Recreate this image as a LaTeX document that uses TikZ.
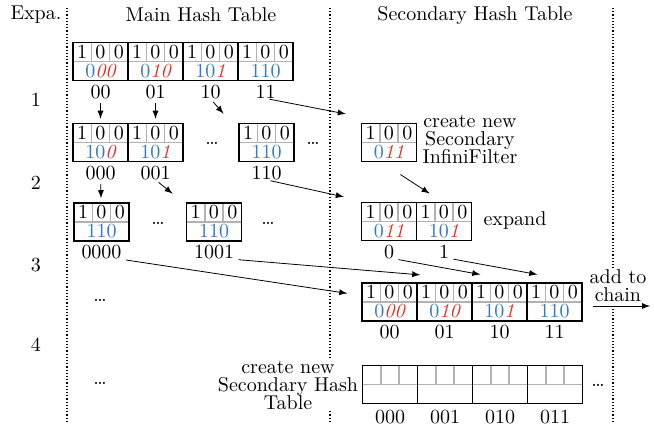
\documentclass[tikz,border=0pt]{standalone}
\usepackage{tikz}
\usetikzlibrary{positioning}
\definecolor{hashblue}{RGB}{52,120,198}
\definecolor{fpred}{RGB}{226,48,36}
\newcommand{\fpbits}[1]{{\color{fpred}\itshape #1}}

\begin{document}
\begin{tikzpicture}[x=0.5pt,y=-0.5pt]
        \useasboundingbox (0,0) rectangle (654,425);
        \tikzstyle{sepline} = [line width=0.6pt,dash pattern=on 0.6pt off 1pt]
        \tikzstyle{slot} = [draw,thick,minimum width=27.5pt,minimum height=19pt,inner sep=0pt,
                path picture={\draw[gray!60] (path picture bounding box.west) -- (path picture bounding box.east)
                ([xshift=-4.58pt]path picture bounding box.north) -- ([xshift=-4.58pt]path picture bounding box.center)
                ([xshift=4.58pt]path picture bounding box.north) -- ([xshift=4.58pt]path picture bounding box.center);}]
        \tikzstyle{bitrow} = [inner sep=0pt]
        \tikzstyle{hashcode} = [inner sep=0pt,text=hashblue]
        \tikzstyle{idxlabel} = [inner sep=0pt]
        \tikzstyle{linkarrow} = [->,>=latex,shorten <=2pt,shorten >=2pt]
        \tikzstyle{annot} = [align=center,inner sep=1pt]

        % separators
        \draw[sepline] (67,8) -- (67,422);
        \draw[sepline] (330,8) -- (330,422);
        \draw[sepline] (613,8) -- (613,422);

        % headings
        \node (hexp) at (36,15) {Expa.};
        \node (hmain) at (201,15) {Main Hash Table};
        \node (hsec) at (475,15) {Secondary Hash Table};
        \node (r1) at (36,100) {1};
        \node (r2) at (36,183) {2};
        \node (r3) at (36,265) {3};
        \node (r4) at (36,345) {4};

        % buckets
        \foreach \n/\x/\y/\code/\lab in {
                m1a/100.5/61.5/0\fpbits{00}/00, m1b/155.5/61.5/0\fpbits{10}/01,
                m1c/210.5/61.5/10\fpbits{1}/10, m1d/265.5/61.5/110/11,
                m2a/100.5/142.5/10\fpbits{0}/000, m2b/155.5/142.5/10\fpbits{1}/001,
                m2c/266.5/142.5/110/110,
                m3a/101.5/222/110/0000, m3b/214/222/110/1001,
                s3a/389/221.5/0\fpbits{11}/0, s3b/444/221.5/10\fpbits{1}/1,
                c1/389.5/302/0\fpbits{00}/00, c2/444.5/302/0\fpbits{10}/01,
                c3/499.5/302/10\fpbits{1}/10, c4/554.5/302/110/11} {
                \node[slot] (\n) at (\x,\y) {};
                \node[bitrow] (\n-b) at ([yshift=4.75pt]\n.center) {1\kern4.17pt 0\kern4.17pt 0};
                \node[hashcode] (\n-c) at ([yshift=-4.75pt]\n.center) {\code};
                \node[idxlabel,below=1.5pt of \n] (\n-l) {\lab};
        }
        \node[slot] (s2) at (389,142.5) {};
        \node[bitrow] (s2-b) at ([yshift=4.75pt]s2.center) {1\kern4.17pt 0\kern4.17pt 0};
        \node[hashcode] (s2-c) at ([yshift=-4.75pt]s2.center) {0\fpbits{11}};

        % new secondary table
        \foreach \n/\x/\lab in {t1/390/000, t2/445/001, t3/500/010, t4/555/011} {
                \node[slot] (\n) at (\x,384.5) {};
                \node[idxlabel,below=2.5pt of \n] (\n-l) {\lab};
        }

        % dots
        \node (d1) at (212,143) {\dots};
        \node (d2) at (313,143) {\dots};
        \node (d3) at (158,223) {\dots};
        \node (d4) at (268,223) {\dots};
        \node (d5) at (100,300) {\dots};
        \node (d6) at (100,383) {\dots};
        \node (d7) at (598,385) {\dots};

        % notes
        \node[annot] (snew) at (470,139) {create new\\[-3pt]Secondary\\[-3pt]InfiniFilter};
        \node (sexp) at (515,220) {expand};
        \node[annot,fill=white] (chainnote) at (618,286) {add to\\[-3pt]chain};
        \node[annot,fill=white] (tnew) at (288,385) {create new\\[-3pt]Secondary Hash\\[-3pt]Table};

        % arrows
        \draw[linkarrow] (m1a-l) to (m2a);
        \draw[linkarrow] (m1b-l) to (m2b);
        \draw[linkarrow] (m1c-l.south) to ([xshift=-6pt,yshift=3pt]m2c.north west);
        \draw[linkarrow] (m1d-l.south) to ([xshift=-5.5pt,yshift=4pt]s2.north west);
        \draw[linkarrow] (m2a-l) to (m3a);
        \draw[linkarrow] (m2b-l.south) to ([xshift=-5pt,yshift=3pt]m3b.north west);
        \draw[linkarrow] (m2c-l.south) to ([xshift=-6.5pt,yshift=2pt]s3a.north west);
        \draw[linkarrow] ([xshift=4pt,yshift=-5pt]s2.south) to ([xshift=-5.5pt,yshift=3pt]s3b.north);
        \draw[linkarrow] (m3a-l.south east) to ([xshift=-5pt,yshift=4pt]c1.west);
        \draw[linkarrow] (m3b-l.south east) to ([xshift=4pt,yshift=3.5pt]c2.north west);
        \draw[linkarrow] (s3a-l.south east) to ([xshift=6.5pt,yshift=3.5pt]c3.north west);
        \draw[linkarrow] (s3b-l.south east) to ([xshift=7.5pt,yshift=3.5pt]c4.north west);
        \coordinate (chainend) at (650,306);
        \draw[linkarrow,shorten <=5pt,shorten >=0pt] ([yshift=-2pt]c4.east) to (chainend);
\end{tikzpicture}
\end{document}
